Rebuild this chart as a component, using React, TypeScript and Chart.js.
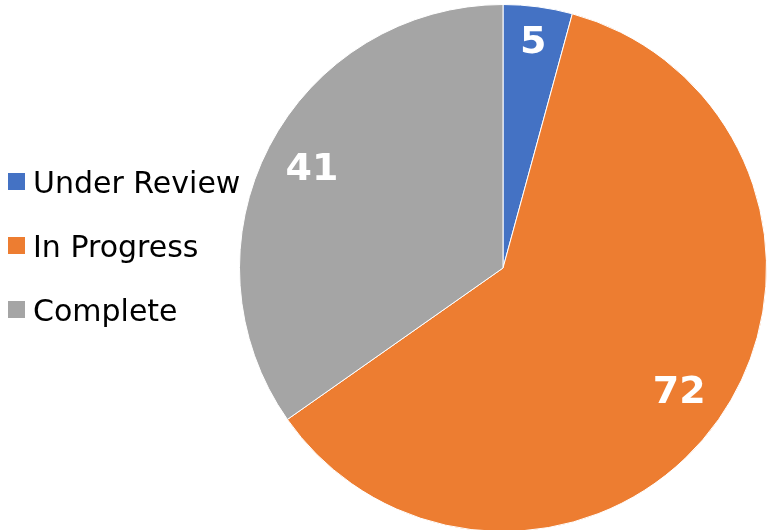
import React, { useEffect, useRef } from "react";
import { Chart, registerables } from "chart.js";

Chart.register(...registerables);

const categories = ["Under Review", "In Progress", "Complete"];
const values = [5, 72, 41];
const colors = ["#4472C4", "#ED7D31", "#A5A5A5"];

const legendPlugin = {
  id: "leftLegend",
  afterDraw(chart: any) {
    const ctx = chart.ctx;
    const labels: string[] = chart.data.labels;
    const bg: string[] = chart.data.datasets[0].backgroundColor;
    ctx.save();
    ctx.font = "30px 'DejaVu Sans'";
    ctx.textBaseline = "alphabetic";
    ctx.textAlign = "left";
    labels.forEach((lab, i) => {
      const cy = 181.5 + i * 64;
      ctx.fillStyle = bg[i];
      ctx.fillRect(8, cy - 8.5, 17, 17);
      ctx.fillStyle = "#000000";
      ctx.fillText(lab, 33, cy + 11);
    });
    ctx.restore();
  },
};

const valueLabelPlugin = {
  id: "valueLabels",
  afterDatasetsDraw(chart: any) {
    const ctx = chart.ctx;
    const meta = chart.getDatasetMeta(0);
    const data: number[] = chart.data.datasets[0].data;
    ctx.save();
    ctx.font = "bold 38px 'DejaVu Sans'";
    ctx.fillStyle = "#FFFFFF";
    ctx.textAlign = "center";
    ctx.textBaseline = "middle";
    meta.data.forEach((arc: any, i: number) => {
      const { x, y, startAngle, endAngle, outerRadius } = arc.getProps(
        ["x", "y", "startAngle", "endAngle", "outerRadius"],
        true
      );
      const mid = (startAngle + endAngle) / 2;
      const ux = Math.cos(mid);
      const uy = Math.sin(mid);
      const text = String(data[i]);
      const w = ctx.measureText(text).width * 0.96;
      const h = 29;
      const target = outerRadius - 19;
      const sx = ux >= 0 ? 1 : -1;
      const sy = uy >= 0 ? 1 : -1;
      let lo = 0;
      let hi = outerRadius;
      for (let k = 0; k < 40; k++) {
        const d = (lo + hi) / 2;
        const cx = d * ux + (sx * w) / 2;
        const cy = d * uy + (sy * h) / 2;
        if (Math.hypot(cx, cy) > target) hi = d;
        else lo = d;
      }
      const d = lo;
      ctx.fillText(text, x + d * ux, y + d * uy + 1);
    });
    ctx.restore();
  },
};

export default function App() {
  const ref = useRef<HTMLCanvasElement | null>(null);
  useEffect(() => {
    if (!ref.current) return;
    const chart = new Chart(ref.current, {
      type: "pie",
      data: {
        labels: categories,
        datasets: [
          {
            data: values,
            backgroundColor: colors,
            borderColor: "#FFFFFF",
            borderWidth: 1,
          },
        ],
      },
      options: {
        animation: false,
        responsive: false,
        maintainAspectRatio: false,
        layout: { padding: { left: 239, right: 1, top: 4, bottom: 4 } },
        plugins: {
          legend: { display: false },
          tooltip: { enabled: false },
        },
      },
      plugins: [legendPlugin, valueLabelPlugin],
    });
    return () => chart.destroy();
  }, []);
  return (
    <div
      style={{
        position: "fixed",
        left: 0,
        top: 0,
        width: 768,
        height: 530,
        overflow: "hidden",
        background: "#FFFFFF",
      }}
    >
      <canvas ref={ref} width={768} height={536} style={{ display: "block" }} />
    </div>
  );
}
